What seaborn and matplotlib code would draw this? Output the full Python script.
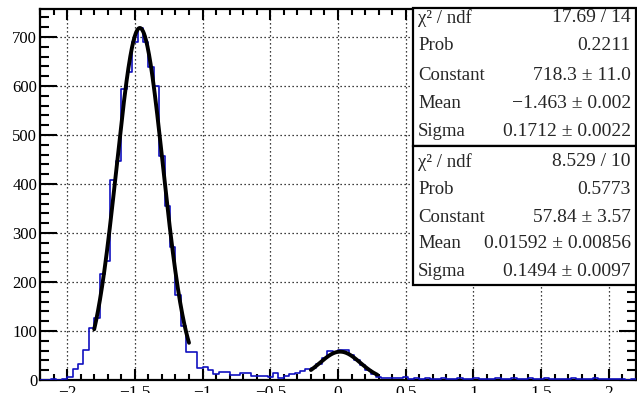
import numpy as np
import pandas as pd
import matplotlib
matplotlib.use("Agg")
import matplotlib.pyplot as plt
import seaborn as sns
from matplotlib.patches import Rectangle
from matplotlib.ticker import MultipleLocator

# ---------------- data ----------------
bin_lo, bin_hi, n_bins = -2.2, 2.2, 110
counts = [
    0, 1, 3, 1, 3, 7, 22, 33, 61, 106,
    127, 217, 242, 409, 447, 593, 629, 690, 719, 690,
    638, 599, 458, 355, 272, 174, 110, 58, 57, 25,
    27, 20, 13, 17, 16, 10, 10, 14, 14, 9,
    8, 8, 7, 14, 5, 8, 12, 15, 18, 22,
    25, 33, 45, 60, 58, 62, 61, 50, 40, 30,
    21, 12, 6, 5, 4,
    5, 4, 6, 3, 4, 3, 5, 2, 3, 4,
    2, 3, 5, 2, 3, 4, 2, 3, 2, 4,
    3, 2, 4, 2, 3, 5, 2, 3, 4, 2,
    3, 2, 2, 4, 3, 2, 3, 4, 2, 3,
    2, 3, 2, 1, 2,
]

# Gaussian fit results (from stats boxes) and fit ranges
fit1_const, fit1_mean, fit1_sigma = 718.3, -1.463, 0.1712
fit1_range = (-1.80, -1.10)
fit2_const, fit2_mean, fit2_sigma = 57.84, 0.01592, 0.1494
fit2_range = (-0.20, 0.29)

stats1_labels = ["χ² / ndf", "Prob", "Constant", "Mean", "Sigma"]
stats1_values = ["17.69 / 14", "0.2211", "718.3 ± 11.0", "−1.463 ± 0.002", "0.1712 ± 0.0022"]
stats2_labels = ["χ² / ndf", "Prob", "Constant", "Mean", "Sigma"]
stats2_values = ["8.529 / 10", "0.5773", "57.84 ± 3.57", "0.01592 ± 0.00856", "0.1494 ± 0.0097"]

xticks = [-2, -1.5, -1, -0.5, 0, 0.5, 1, 1.5, 2]
xticklabels = ["−2", "−1.5", "−1", "−0.5", "0", "0.5", "1", "1.5", "2"]
yticks = [0, 100, 200, 300, 400, 500, 600, 700]

# ---------------- style ----------------
sns.set_style("ticks")
plt.rcParams["font.family"] = ["Liberation Serif", "DejaVu Serif"]

W, H, DPI = 637, 393, 100
fig = plt.figure(figsize=(W / DPI, H / DPI), dpi=DPI)
ax = fig.add_axes([40 / W, 1 - 380 / H, (636 - 40) / W, (380 - 9) / H])

edges = [bin_lo + i * (bin_hi - bin_lo) / n_bins for i in range(n_bins + 1)]
centers = [0.5 * (edges[i] + edges[i + 1]) for i in range(n_bins)]
df = pd.DataFrame({"x": centers, "w": counts})

ax.grid(True, which="major", color="black", linestyle=(0, (1, 2.2)), linewidth=0.9, zorder=0)
ax.set_axisbelow(True)

sns.histplot(data=df, x="x", weights="w", bins=edges, element="step", fill=False,
             color="#1010c0", linewidth=1.2, ax=ax, zorder=3)


def gauss(x, c, m, s):
    return c * np.exp(-0.5 * ((x - m) / s) ** 2)


for (c, m, s), (lo, hi) in [((fit1_const, fit1_mean, fit1_sigma), fit1_range),
                            ((fit2_const, fit2_mean, fit2_sigma), fit2_range)]:
    xx = np.linspace(lo, hi, 300)
    sns.lineplot(x=xx, y=gauss(xx, c, m, s), color="black", linewidth=2.8, ax=ax, zorder=4)

ax.set_xlim(bin_lo, bin_hi)
ax.set_ylim(0, 757)
ax.set_xlabel("")
ax.set_ylabel("")
ax.set_xticks(xticks)
ax.set_xticklabels(xticklabels)
ax.set_yticks(yticks)
ax.xaxis.set_minor_locator(MultipleLocator(0.1))
ax.yaxis.set_minor_locator(MultipleLocator(20))

ax.tick_params(axis="both", which="both", direction="in", top=True, right=True,
               width=1.5, colors="black")
ax.tick_params(axis="x", which="major", length=8, pad=3.5, labelsize=12.5)
ax.tick_params(axis="x", which="minor", length=4)
ax.tick_params(axis="y", which="major", length=12.5, pad=2, labelsize=12)
ax.tick_params(axis="y", which="minor", length=6.5)
for sp in ax.spines.values():
    sp.set_linewidth(1.6)
    sp.set_color("black")
    sp.set_visible(True)


# ---------------- stats boxes ----------------
def fx(px):
    return px / W


def fy(py):
    return 1 - py / H


box_left, box_right = 413, 636
boxes = [(8, 146, stats1_labels, stats1_values, [18, 45, 76, 104, 132]),
         (146, 285, stats2_labels, stats2_values, [162, 189, 217, 244, 271])]
for top, bot, labels, values, rows in boxes:
    rect = Rectangle((fx(box_left), fy(bot)), fx(box_right) - fx(box_left), fy(top) - fy(bot),
                     transform=fig.transFigure, facecolor="white", edgecolor="black",
                     linewidth=1.6, zorder=10)
    fig.add_artist(rect)
    for lab, val, ry in zip(labels, values, rows):
        fig.text(fx(418), fy(ry), lab, ha="left", va="center", fontsize=13.5, zorder=11)
        fig.text(fx(631), fy(ry), val, ha="right", va="center", fontsize=14, zorder=11)

fig.savefig("out.png", dpi=DPI)
